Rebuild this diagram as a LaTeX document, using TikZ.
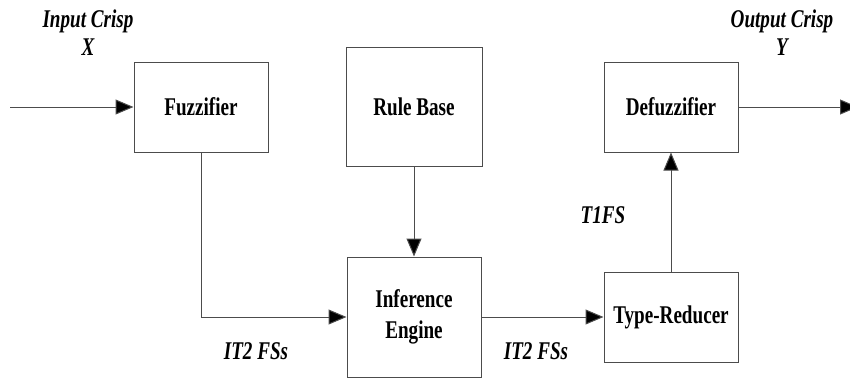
\documentclass[tikz,border=0pt]{standalone}
\usepackage{fontspec}
\setmainfont{Liberation Serif}[FakeStretch=0.75]
\usetikzlibrary{arrows.meta}

\begin{document}
\begin{tikzpicture}[x=1pt, y=-1pt, font=\fontsize{25}{30}\selectfont,
	box/.style={draw=black!70, line width=1pt, minimum width=134pt, minimum height=90pt, font=\fontsize{25.5}{31}\selectfont\bfseries, align=center, inner sep=0pt},
	lbl/.style={font=\fontsize{25.5}{28}\selectfont\bfseries\itshape, align=center},
	-{Triangle[length=18pt,width=15pt,fill=black]}, line width=1pt]
	\useasboundingbox (0,0) rectangle (850,378);
	\node[box] (fuzz) at (201,107) {Fuzzifier};
	\node[box, minimum width=136pt, minimum height=119pt] (rules) at (414,106.5) {Rule Base};
	\node[box, minimum height=120pt] (infer) at (414,317) {Inference\\Engine};
	\node[box] (reduce) at (671,317) {Type-Reducer};
	\node[box] (defuzz) at (671,107) {Defuzzifier};
	\coordinate (in) at (10,107);
	\coordinate (out) at (858,107);
	% connectors
	\draw[black!70] (in) -- (fuzz.west);
	\draw[black!70] (fuzz.south) |- (infer.west);
	\draw[black!70] (rules.south) -- (infer.north);
	\draw[black!70] (infer.east) -- (reduce.west);
	\draw[black!70] (reduce.north) -- (defuzz.south);
	\draw[black!70] (defuzz.east) -- (out);
	% labels
	\node[lbl] (inlbl) at (88,33) {Input Crisp\\X};
	\node[lbl] (outlbl) at (782,33) {Output Crisp\\Y};
	\node[lbl] (fs1) at (256,351) {IT2 FSs};
	\node[lbl] (fs2) at (536,351) {IT2 FSs};
	\node[lbl] (t1) at (603,215) {T1FS};
\end{tikzpicture}
\end{document}
